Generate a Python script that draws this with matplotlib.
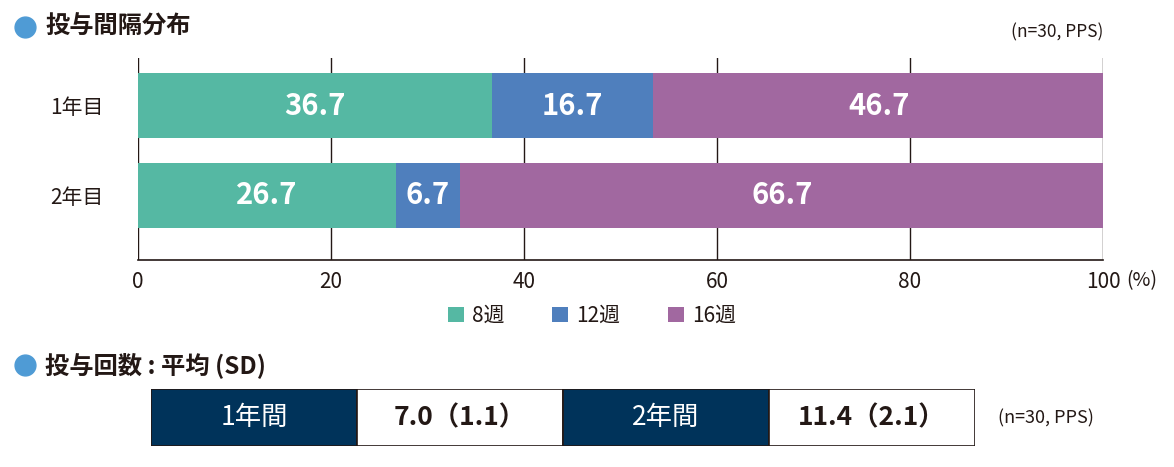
import matplotlib
matplotlib.use('Agg')
import matplotlib.pyplot as plt
from matplotlib.patches import Patch, Rectangle
from matplotlib.lines import Line2D

plt.rcParams['font.family'] = ['Noto Sans CJK JP', 'DejaVu Sans']

# データ
categories = ['1年目', '2年目']
weeks = ['8週', '12週', '16週']
w8 = [36.7, 26.7]
w12 = [16.7, 6.7]
w16 = [46.7, 66.7]
xticks = [0, 20, 40, 60, 80, 100]

table_labels = ['1年間', '2年間']
table_values = ['7.0（1.1）', '11.4（2.1）']

colors = ['#55b8a3', '#4f7fbd', '#a168a0']
navy = '#00335a'
txt = '#231815'

W, H = 1174, 467
fig = plt.figure(figsize=(W / 100, H / 100), dpi=100)

# 上段: 積み上げ横棒
ax = fig.add_axes([138 / W, 1 - 260 / H, 965 / W, 202 / H])
series = [w8, w12, w16]
y = list(range(len(categories)))
left = [0] * len(categories)
for vals, c in zip(series, colors):
    bars = ax.barh(y, vals, left=left, height=0.73, color=c, zorder=2)
    for b, v in zip(bars, vals):
        ax.text(b.get_x() + b.get_width() / 2, b.get_y() + b.get_height() / 2,
                f'{v:.1f}', color='white', fontsize=21, fontweight='bold',
                ha='center', va='center', zorder=3)
    left = [l + v for l, v in zip(left, vals)]

ax.set_xlim(0, 100)
ax.set_ylim(1.717, -0.528)
ax.set_xticks(xticks)
ax.set_xticklabels([str(t) for t in xticks])
ax.set_yticks(y)
ax.set_yticklabels(categories)
ax.tick_params(axis='x', length=0, pad=8, labelsize=15, labelcolor=txt)
ax.tick_params(axis='y', length=0, pad=25, labelsize=15, labelcolor=txt)
for t in xticks:
    ax.axvline(t, color=txt, lw=1, zorder=1)
for s in ['top', 'right', 'left']:
    ax.spines[s].set_visible(False)
ax.spines['bottom'].set_color(txt)
ax.spines['bottom'].set_linewidth(1.2)

fig.text(1126 / W, 1 - 281 / H, '(%)', fontsize=14, color=txt, ha='left', va='center')

handles = [Patch(facecolor=c, edgecolor='none') for c in colors]
fig.legend(handles, weeks, loc='center', bbox_to_anchor=(592 / W, 1 - 316 / H),
           ncol=3, frameon=False, fontsize=15, handlelength=0.75, handleheight=0.75,
           handletextpad=0.4, columnspacing=2.3, labelcolor=txt)

# 見出し
for yy, title in [(27, '投与間隔分布'), (365, '投与回数 : 平均 (SD)')]:
    fig.add_artist(Line2D([25 / W], [1 - yy / H], marker='o', markersize=15,
                          color='#4f9bd5', transform=fig.transFigure))
    fig.text(45 / W, 1 - yy / H, title, fontsize=17.5, fontweight='bold',
             color=txt, ha='left', va='center')

fig.text(1103 / W, 1 - 32 / H, '(n=30, PPS)', fontsize=12.5, color=txt,
         ha='right', va='center')

# 下段: 平均回数の表
tax = fig.add_axes([151 / W, 1 - 446 / H, 824 / W, 57 / H])
tax.set_xlim(0, 4)
tax.set_ylim(0, 1)
tax.axis('off')
for i, (lab, val) in enumerate(zip(table_labels, table_values)):
    x0 = i * 2
    tax.add_patch(Rectangle((x0, 0), 1, 1, facecolor=navy, edgecolor=txt, lw=1.2))
    tax.add_patch(Rectangle((x0 + 1, 0), 1, 1, facecolor='white', edgecolor=txt, lw=1.2))
    tax.text(x0 + 0.5, 0.5, lab, color='white', fontsize=19, ha='center', va='center')
    tax.text(x0 + 1.5, 0.5, val, color=txt, fontsize=19, fontweight='bold',
             ha='center', va='center')

fig.text(998 / W, 1 - 418 / H, '(n=30, PPS)', fontsize=13, color=txt,
         ha='left', va='center')

fig.savefig('out.png', dpi=100)
